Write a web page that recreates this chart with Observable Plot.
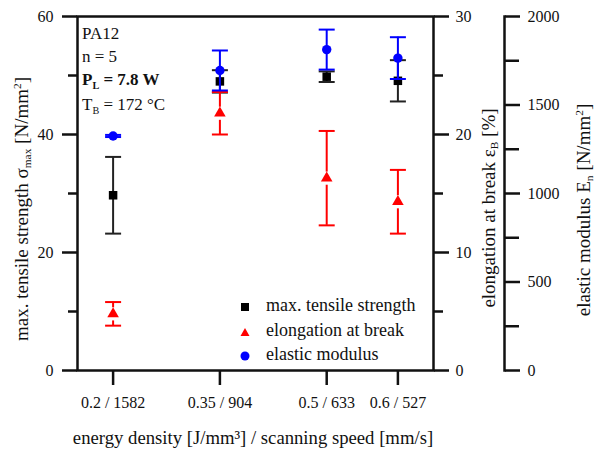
<!DOCTYPE html>
<html>
<head>
<meta charset="utf-8">
<script src="https://cdn.jsdelivr.net/npm/d3@7"></script>
<script src="https://cdn.jsdelivr.net/npm/@observablehq/plot@0.6"></script>
<style>
  html, body { margin: 0; padding: 0; background: #fff; }
  #wrap { position: relative; width: 597px; height: 455px; overflow: hidden; background: #fff;
          font-family: "Liberation Serif", "Times New Roman", serif; color: #111; }
  .lbl { position: absolute; white-space: nowrap; line-height: 1; font-family: "Liberation Serif", serif; }
  .rot { transform: translate(-50%, -50%) rotate(-90deg); }
  sub { font-size: 0.6em; vertical-align: -0.35em; line-height: 0; }
  sup { font-size: 0.6em; vertical-align: 0.55em; line-height: 0; }
  .leg { position: absolute; left: 240px; font-size: 18px; line-height: 1; white-space: nowrap; font-family: "Liberation Serif", serif; }
  .leg svg { vertical-align: middle; margin-right: 16px; }
</style>
</head>
<body>
<div id="wrap"></div>
<script>
// ---- data ----
const energyDensity = [0.2, 0.35, 0.5, 0.6];          // J/mm³
const scanSpeed     = [1582, 904, 633, 527];          // mm/s
const tensile       = [29.7, 49.0, 49.8, 49.1];       // N/mm²
const tensileErr    = [6.5, 1.9, 0.9, 3.5];
const elongation    = [4.8, 21.8, 16.3, 14.3];        // %
const elongationErr = [1.0, 1.8, 4.0, 2.7];
const modulus       = [1325, 1695, 1813, 1765];       // N/mm²
const modulusErr    = [6, 113, 113, 118];

const tensileTicks = [0, 20, 40, 60], tensileMinor = [10, 30, 50];
const elongTicks = [0, 10, 20, 30], elongMinor = [5, 15, 25];
const modTicks = [0, 500, 1000, 1500, 2000], modMinor = [250, 750, 1250, 1750];

const idx = d3.range(energyDensity.length);
const xLabel = new Map(idx.map(i => [energyDensity[i], `${energyDensity[i]} / ${scanSpeed[i]}`]));
const X = i => energyDensity[i];

const cap = {draw(ctx, size) { const r = Math.sqrt(size / Math.PI); ctx.moveTo(-r, 0); ctx.lineTo(r, 0); }};

const W = 597, H = 455;
const base = (mr, showX) => ({
  width: W, height: H, marginTop: 16, marginBottom: 85, marginLeft: 77, marginRight: mr,
  x: {type: "linear", domain: [0.15, 0.65], range: [77, 433], ...(showX ? {} : {axis: null})},
  style: {background: "transparent", fontFamily: "'Liberation Serif', serif", fontSize: "16px",
          color: "#111", overflow: "visible", position: "absolute", left: "0px", top: "0px"}
});

function errMarks(val, err, color) {
  return [
    Plot.ruleX(idx, {x: X, y1: i => val[i] - err[i], y2: i => val[i] + err[i], stroke: color, strokeWidth: 2}),
    Plot.dot(idx, {x: X, y: i => val[i] - err[i], symbol: cap, r: 8, fill: "none", stroke: color, strokeWidth: 2}),
    Plot.dot(idx, {x: X, y: i => val[i] + err[i], symbol: cap, r: 8, fill: "none", stroke: color, strokeWidth: 2})
  ];
}
const fmt = d => String(d);

// Plot A: tensile strength (left axis) + frame + x axis
const plotA = Plot.plot({
  ...base(164, true),
  y: {domain: [0, 60]},
  marks: [
    Plot.frame({stroke: "#111", strokeWidth: 2.5}),
    Plot.axisY(tensileTicks, {anchor: "left", tickSize: 15, tickPadding: 9, strokeWidth: 2.5, fontSize: 16, tickFormat: fmt, label: null}),
    Plot.axisY(tensileMinor, {anchor: "left", tickSize: 9, strokeWidth: 2.5, tickFormat: () => "", label: null}),
    Plot.axisX(energyDensity, {anchor: "bottom", tickSize: 15, tickPadding: 11, strokeWidth: 2.5, fontSize: 16,
      tickFormat: d => xLabel.get(d), label: null}),
    ...errMarks(tensile, tensileErr, "#222"),
    Plot.dot(idx, {x: X, y: i => tensile[i], symbol: "square", r: 4.8, fill: "#000"})
  ]
});

// Plot B: elongation at break (first right axis)
const plotB = Plot.plot({
  ...base(164, false),
  y: {domain: [0, 30]},
  marks: [
    Plot.axisY(elongTicks, {anchor: "right", tickSize: 15, tickPadding: 7, strokeWidth: 2.5, fontSize: 16, tickFormat: fmt, label: null}),
    Plot.axisY(elongMinor, {anchor: "right", tickSize: 9, strokeWidth: 2.5, tickFormat: () => "", label: null}),
    ...errMarks(elongation, elongationErr, "#ff0000"),
    Plot.dot(idx, {x: X, y: i => elongation[i], symbol: "square", r: 7.4, fill: "#fff"}),
    Plot.dot(idx, {x: X, y: i => elongation[i], symbol: "triangle", r: 4.3, fill: "#ff0000"})
  ]
});

// Plot C: elastic modulus (second right axis)
const plotC = Plot.plot({
  ...base(93, false),
  y: {domain: [0, 2000]},
  marks: [
    Plot.frame({anchor: "right", stroke: "#111", strokeWidth: 2.5}),
    Plot.axisY(modTicks, {anchor: "right", tickSize: 15, tickPadding: 8, strokeWidth: 2.5, fontSize: 16, tickFormat: fmt, label: null}),
    Plot.axisY(modMinor, {anchor: "right", tickSize: 14, strokeWidth: 2.5, tickFormat: () => "", label: null}),
    ...errMarks(modulus, modulusErr, "#0000ff"),
    Plot.dot(idx, {x: X, y: i => modulus[i], symbol: "circle", r: 4.7, fill: "#0000ff"})
  ]
});

const wrap = document.getElementById("wrap");
wrap.append(plotA, plotB, plotC);

function addLabel(html, css, cls) {
  const d = document.createElement("div");
  d.className = "lbl " + (cls || "");
  d.innerHTML = html;
  Object.assign(d.style, css);
  wrap.append(d);
}
// axis titles
addLabel("max. tensile strength σ<sub>max</sub> [N/mm<sup>2</sup>]", {left: "21px", top: "209px", fontSize: "19px"}, "rot");
addLabel("elongation at break ε<sub>B</sub> [%]", {left: "488px", top: "208px", fontSize: "19px"}, "rot");
addLabel("elastic modulus E<sub>n</sub> [N/mm<sup>2</sup>]", {left: "583px", top: "210px", fontSize: "19px"}, "rot");
addLabel("energy density [J/mm³] / scanning speed [mm/s]", {left: "253px", top: "438px", fontSize: "18.7px", transform: "translate(-50%, -50%)"});

// annotation block
addLabel("PA12", {left: "82px", top: "25px", fontSize: "17px"});
addLabel("n = 5", {left: "82px", top: "48px", fontSize: "17px"});
addLabel("<b>P<sub>L</sub> = 7.8 W</b>", {left: "82px", top: "71px", fontSize: "17px"});
addLabel("T<sub>B</sub> = 172 °C", {left: "82px", top: "96px", fontSize: "17px"});

// legend
const legend = [
  ["max. tensile strength", '<svg width="10" height="10"><rect x="1" y="1" width="8" height="8" fill="#000"/></svg>', 305],
  ["elongation at break", '<svg width="10" height="10"><path d="M5,1 L9.5,9 L0.5,9 Z" fill="#ff0000"/></svg>', 330],
  ["elastic modulus", '<svg width="10" height="10"><circle cx="5" cy="5" r="4.5" fill="#0000ff"/></svg>', 354]
];
for (const [t, sym, y] of legend) {
  const d = document.createElement("div");
  d.className = "leg";
  d.style.top = (y - 9) + "px";
  d.innerHTML = sym + t;
  wrap.append(d);
}
</script>
</body>
</html>
